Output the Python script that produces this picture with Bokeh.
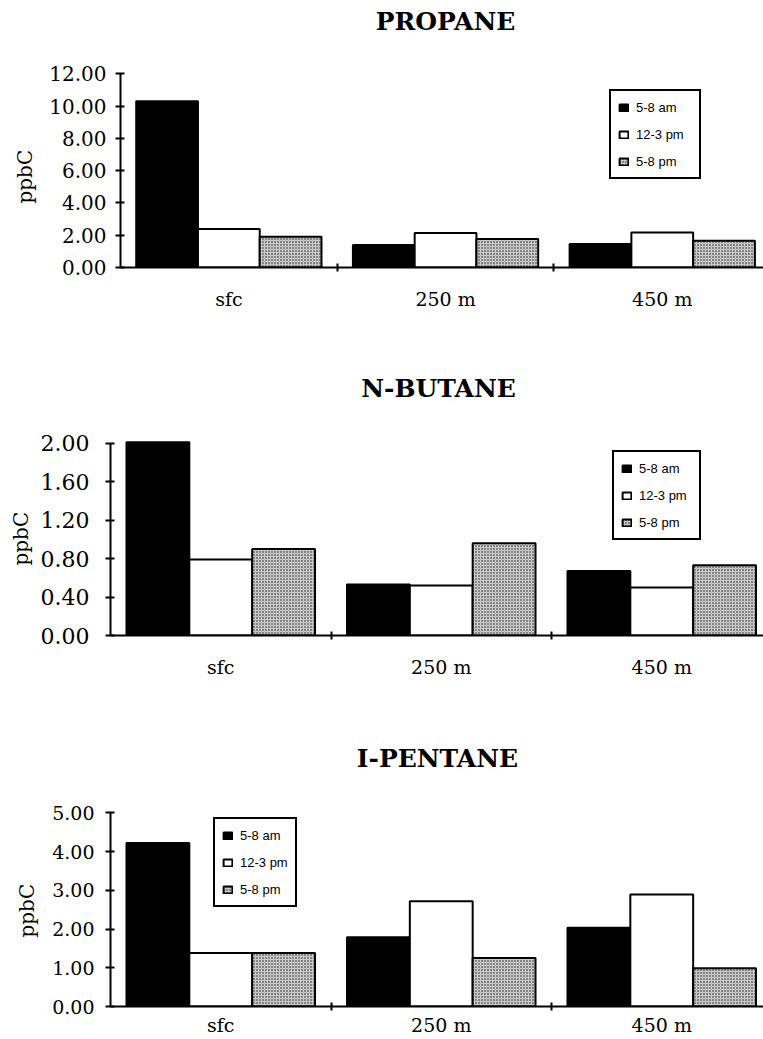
import numpy as np
from bokeh.plotting import figure
from bokeh.layouts import column, row
from bokeh.models import (Range1d, FixedTicker, Legend, LegendItem, Label, Title,
                          ColumnDataSource, NumeralTickFormatter)
from bokeh.transform import dodge
from bokeh.embed import file_html
from bokeh.resources import INLINE

sites = ["sfc", "250 m", "450 m"]
periods = ["5-8 am", "12-3 pm", "5-8 pm"]

propane_am = [10.3, 1.40, 1.45]
propane_noon = [2.38, 2.14, 2.17]
propane_pm = [1.90, 1.76, 1.66]

butane_am = [2.01, 0.53, 0.67]
butane_noon = [0.79, 0.52, 0.50]
butane_pm = [0.90, 0.96, 0.73]

pentane_am = [4.22, 1.79, 2.03]
pentane_noon = [1.38, 2.72, 2.89]
pentane_pm = [1.38, 1.25, 0.99]

propane_ticks = [0, 2, 4, 6, 8, 10, 12]
butane_ticks = [0, 0.4, 0.8, 1.2, 1.6, 2.0]
pentane_ticks = [0, 1, 2, 3, 4, 5]

SERIF = "DejaVu Serif"
SANS = "Liberation Sans"


def panel(title, am, noon, pm, yticks, fig_h, axis_top, frame_bottom, left,
          px_per_x, title_cx, title_cy, ylab_offset, ylab_standoff,
          legend_loc, legend_lw, tick_font, tick_standoff, xlab_standoff):
    ymax = yticks[-1]
    frame_h = frame_bottom
    px_per_y = (frame_bottom - axis_top) / ymax
    yend = frame_h / px_per_y
    xend = (763 - left) / px_per_x
    p = figure(width=763, height=fig_h,
               x_range=Range1d(0, xend), y_range=Range1d(0, yend),
               output_backend="svg", toolbar_location=None,
               min_border_top=0, min_border_bottom=fig_h - frame_bottom,
               min_border_left=left, min_border_right=0)
    p.outline_line_color = None
    p.xgrid.visible = False
    p.ygrid.visible = False
    p.background_fill_color = "white"

    xs = [i + 0.5 for i in range(len(sites))]
    src = ColumnDataSource(dict(x=xs, site=sites, am=am, noon=noon, pm=pm))
    w = 0.285
    r1 = p.vbar(x=dodge("x", -w, range=None), top="am", width=w, source=src,
                fill_color="black", line_color="black", line_width=2)
    r2 = p.vbar(x=dodge("x", 0, range=None), top="noon", width=w, source=src,
                fill_color="white", line_color="black", line_width=2)
    r3 = p.vbar(x=dodge("x", w, range=None), top="pm", width=w, source=src,
                fill_color="#c8c8c8", hatch_pattern="dot", hatch_color="#202020",
                hatch_scale=3, hatch_weight=1.2,
                line_color="black", line_width=2)

    # x axis
    xa = p.xaxis[0]
    xa.ticker = FixedTicker(ticks=xs, minor_ticks=[1, 2])
    xa.major_label_overrides = {x: s for x, s in zip(xs, sites)}
    xa.major_tick_in = 0
    xa.major_tick_out = 0
    xa.minor_tick_in = 4
    xa.minor_tick_out = 4
    xa.minor_tick_line_width = 2
    xa.minor_tick_line_color = "black"
    xa.axis_line_width = 2
    xa.axis_line_color = "black"
    xa.major_label_text_font = SERIF
    xa.major_label_text_font_size = "19px"
    xa.major_label_text_color = "black"
    xa.major_label_standoff = xlab_standoff

    # y axis
    ya = p.yaxis[0]
    ya.bounds = (0, ymax)
    ya.ticker = FixedTicker(ticks=yticks, minor_ticks=[])
    ya.formatter = NumeralTickFormatter(format="0.00")
    ya.major_tick_in = 4
    ya.major_tick_out = 5
    ya.major_tick_line_width = 2
    ya.major_tick_line_color = "black"
    ya.axis_line_width = 2
    ya.axis_line_color = "black"
    ya.major_label_text_font = SERIF
    ya.major_label_text_font_size = tick_font
    ya.major_label_text_color = "black"
    ya.major_label_standoff = tick_standoff

    # y axis title (placed beside the axis, positioned along the drawn axis)
    p.add_layout(Title(text="ppbC", align="left", offset=ylab_offset,
                       standoff=ylab_standoff, text_font=SERIF,
                       text_font_size="20px", text_font_style="normal",
                       text_color="black"), "left")

    p.add_layout(Label(x=(title_cx - left) / px_per_x,
                       y=(frame_bottom - title_cy) / px_per_y,
                       text=title, text_align="center", text_baseline="middle",
                       text_font=SERIF, text_font_size="25px",
                       text_font_style="bold", text_color="black"))

    legend = Legend(items=[LegendItem(label=periods[0], renderers=[r1]),
                           LegendItem(label=periods[1], renderers=[r2]),
                           LegendItem(label=periods[2], renderers=[r3])],
                    location=legend_loc, orientation="vertical",
                    border_line_color="black", border_line_width=2,
                    border_line_alpha=1,
                    background_fill_color="white", background_fill_alpha=1,
                    padding=7, spacing=9, label_height=18,
                    glyph_height=9, glyph_width=11, label_standoff=7,
                    label_width=legend_lw, margin=0,
                    label_text_font=SANS, label_text_font_size="13px",
                    label_text_color="black")
    p.add_layout(legend)
    return p


# panel geometry in pixels of each figure: axis top tick, frame bottom (zero line)
p1 = panel("PROPANE", propane_am, propane_noon, propane_pm, propane_ticks,
           340, 73.3, 267, 120, 216.7, 445, 21, 64, 19, (489, 88), 56,
           "20px", 9, 16)
p2 = panel("N-BUTANE", butane_am, butane_noon, butane_pm, butane_ticks,
           370, 102.7, 295, 110, 220.5, 438, 48, 70, 9, (502, 95), 53,
           "22px", 16, 16)
p3 = panel("I-PENTANE", pentane_am, pentane_noon, pentane_pm, pentane_ticks,
           329, 102.3, 296, 110, 220.5, 437, 48, 69, 21, (103, 99), 48,
           "19px", 11, 3)

layout = column(row(p1), row(p2), row(p3), spacing=0)
open("out.html", "w").write(file_html(layout, INLINE))
